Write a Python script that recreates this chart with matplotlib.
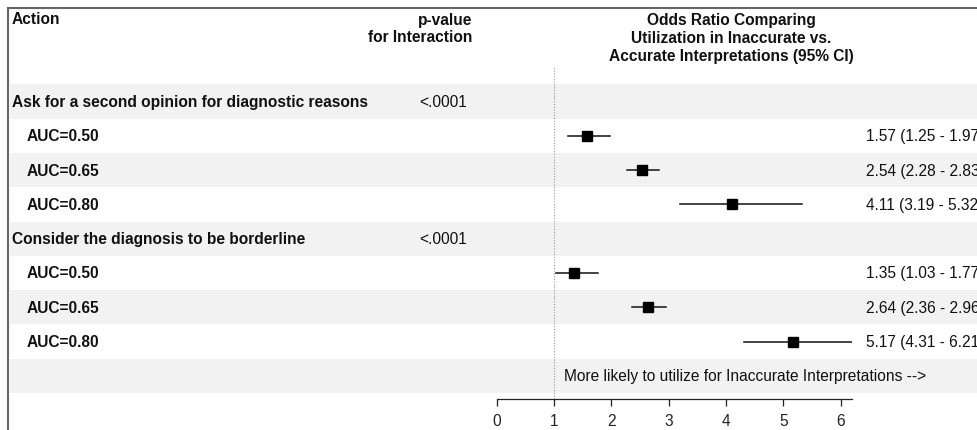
import matplotlib.pyplot as plt
from matplotlib.patches import Rectangle
from matplotlib.lines import Line2D

plt.rcParams["font.family"] = ["Liberation Sans", "DejaVu Sans"]

# Forest plot data: two actions, each split by AUC level
actions = ["Ask for a second opinion for diagnostic reasons",
           "Consider the diagnosis to be borderline"]
p_values = ["<.0001", "<.0001"]
auc_labels = ["AUC=0.50", "AUC=0.65", "AUC=0.80"]
odds_ratio = [[1.57, 2.54, 4.11], [1.35, 2.64, 5.17]]
ci_low = [[1.25, 2.28, 3.19], [1.03, 2.36, 4.31]]
ci_high = [[1.97, 2.83, 5.32], [1.77, 2.96, 6.21]]
x_ticks = [0, 1, 2, 3, 4, 5, 6]

W, H = 978, 431
TEXT = "#111111"
BAND = "#f2f2f2"
FS = 11.2

fig = plt.figure(figsize=(W / 100, H / 100), dpi=100)
fig.patch.set_facecolor("white")


def fx(px):
    return px / W


def fy(py):
    return 1 - py / H


# Row layout (pixel centres), header rows, AUC rows and a footer row
row_y0, row_h = 102.5, 34.3
n_rows = 1 + len(actions) * (1 + len(auc_labels))

ax = fig.add_axes([fx(496.7), fy(400), fx(852) - fx(496.7), fy(68) - fy(400)])
y_top = (68 - row_y0) / row_h
y_bot = (400 - row_y0) / row_h
ax.set_xlim(0, 6.2)
ax.set_ylim(y_bot, y_top)
ax.patch.set_alpha(0)

row_tf = ax.get_yaxis_transform()  # x in axes fraction, y in rows


def ax_x(px):
    p = ax.get_position()
    return (fx(px) - p.x0) / p.width


# Zebra bands across the full width of the table
for r in range(0, n_rows, 2):
    x0, x1 = ax_x(10), ax_x(W)
    ax.add_patch(Rectangle((x0, r - 0.5), x1 - x0, 1.0, transform=row_tf,
                           facecolor=BAND, edgecolor="none", clip_on=False, zorder=0))

ax.axvline(1, color="#999999", lw=0.8, ls=(0, (1, 1.5)), zorder=1)

row = 0
for a, action in enumerate(actions):
    ax.text(ax_x(12), row, action, transform=row_tf, ha="left", va="center",
            fontsize=FS, fontweight="bold", color=TEXT)
    ax.text(ax_x(467), row, p_values[a], transform=row_tf, ha="right", va="center",
            fontsize=FS, color=TEXT)
    row += 1
    for k, lab in enumerate(auc_labels):
        ax.text(ax_x(27), row, lab, transform=row_tf, ha="left", va="center",
                fontsize=FS, fontweight="bold", color=TEXT)
        est, lo, hi = odds_ratio[a][k], ci_low[a][k], ci_high[a][k]
        ax.plot([lo, hi], [row, row], color=TEXT, lw=1.1, zorder=3)
        ax.plot(est, row, marker="s", ms=7.2, color="black", zorder=4)
        # estimate column runs past the right edge of the table
        ax.text(ax_x(866), row, f"{est:.2f} ({lo:.2f} - {hi:.2f})", transform=row_tf,
                ha="left", va="center", fontsize=FS, color=TEXT, clip_on=False)
        row += 1

ax.text(ax_x(564), row, "More likely to utilize for Inaccurate Interpretations -->",
        transform=row_tf, ha="left", va="center", fontsize=FS, color=TEXT)

# Column headers
fig.text(fx(12), fy(20), "Action", ha="left", va="center",
         fontsize=FS, fontweight="bold", color=TEXT)
for i, line in enumerate(["p-value", "for Interaction"]):
    fig.text(fx(472), fy(20 + 18 * i), line, ha="right", va="center",
             fontsize=FS, fontweight="bold", color=TEXT)
for i, line in enumerate(["Odds Ratio Comparing", "Utilization in Inaccurate vs.",
                          "Accurate Interpretations (95% CI)"]):
    fig.text(fx(731), fy(20 + 18.3 * i), line, ha="center", va="center",
             fontsize=FS, fontweight="bold", color=TEXT)

# X axis: bottom spine only, ticks pointing down
for s in ["top", "right", "left"]:
    ax.spines[s].set_visible(False)
ax.spines["bottom"].set_linewidth(0.9)
ax.spines["bottom"].set_color("#222222")
ax.set_yticks([])
ax.set_xticks(x_ticks)
ax.tick_params(axis="x", direction="out", length=5, width=0.9, pad=5,
               labelsize=FS, colors="#222222")

# Outer frame (top and left edges)
fig.add_artist(Line2D([fx(8), 1], [fy(9), fy(9)], color="#666666", lw=1.5))
fig.add_artist(Line2D([fx(8), fx(8)], [fy(9), 0], color="#666666", lw=1.5))

fig.savefig("out.png", dpi=100, facecolor="white")
